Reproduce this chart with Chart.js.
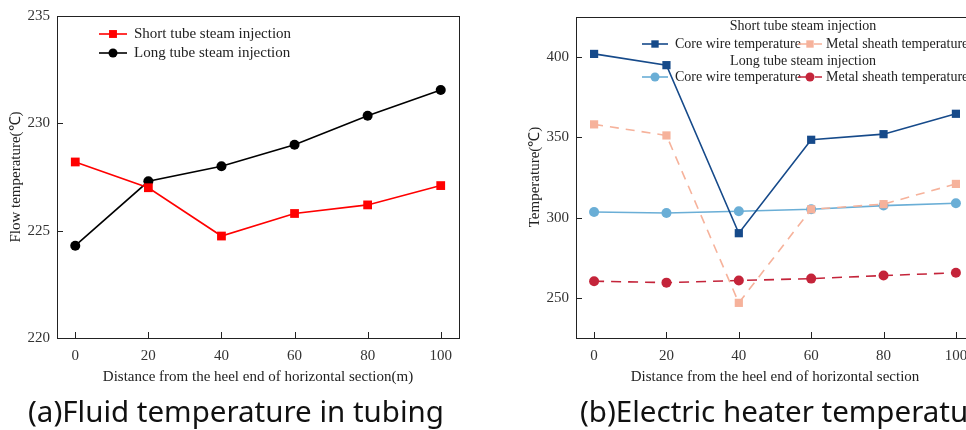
<!DOCTYPE html>
<html>
<head>
<meta charset="utf-8">
<script src="https://cdn.jsdelivr.net/npm/chart.js@4.4.0/dist/chart.umd.min.js"></script>
<style>
  html, body { margin: 0; padding: 0; background: #fff; overflow: hidden; width: 966px; height: 430px; }
  #wrapA { position: absolute; left: 0; top: 0; }
  #wrapB { position: absolute; left: 480px; top: 0; }
  .cap { position: absolute; top: 393px; font-family: "Noto Sans", sans-serif; font-size: 29.5px; color: #111; white-space: nowrap; line-height: 36px; }
</style>
</head>
<body>
<div id="wrapA"><canvas id="chartA" width="475" height="392"></canvas></div>
<div id="wrapB"><canvas id="chartB" width="520" height="392"></canvas></div>
<div class="cap" style="left:28px">(a)Fluid temperature in tubing</div>
<div class="cap" style="left:580px">(b)Electric heater temperature</div>
<script>
// ---- data (a) ----
var distances = [0, 20, 40, 60, 80, 100];
var shortTubeFlow = [228.2, 227.0, 224.75, 225.8, 226.2, 227.1];
var longTubeFlow = [224.3, 227.3, 228.0, 229.0, 230.35, 231.55];
var flowTicks = [220, 225, 230, 235];

// ---- data (b) ----
var shortCoreWire = [402, 395, 290.3, 348.5, 352, 364.7];
var shortSheath = [358.1, 351.2, 246.9, 305.2, 308.4, 321];
var longCoreWire = [303.5, 302.9, 304, 305.2, 307.5, 309];
var longSheath = [260.4, 259.5, 260.8, 262, 263.9, 265.6];
var heaterTicks = [250, 300, 350, 400];
var legendGroups = ["Short tube steam injection", "Long tube steam injection"];

var serif = '"Liberation Serif", "Times New Roman", serif';

function pts(values) {
  return distances.map(function (d, i) { return { x: d, y: values[i] }; });
}

function setTicks(list) {
  return function (scale) { scale.ticks = list.map(function (v) { return { value: v }; }); };
}

// frame, inward ticks, axis titles and a hand-placed legend
var framePlugin = {
  id: "frame",
  afterDraw: function (chart, args, opts) {
    var ctx = chart.ctx, a = chart.chartArea, xs = chart.scales.x, ys = chart.scales.y;
    ctx.save();
    ctx.strokeStyle = "#222";
    ctx.lineWidth = 1;
    ctx.strokeRect(Math.round(a.left) + 0.5, Math.round(a.top) + 0.5, Math.round(a.right - a.left), Math.round(a.bottom - a.top));
    ctx.beginPath();
    xs.ticks.forEach(function (t) {
      var px = Math.round(xs.getPixelForValue(t.value)) + 0.5;
      ctx.moveTo(px, a.bottom);
      ctx.lineTo(px, a.bottom - 6);
    });
    ys.ticks.forEach(function (t) {
      var py = Math.round(ys.getPixelForValue(t.value)) + 0.5;
      ctx.moveTo(a.left, py);
      ctx.lineTo(a.left + 6, py);
    });
    ctx.stroke();

    ctx.fillStyle = "#222";
    ctx.font = "15px " + serif;
    ctx.textAlign = "center";
    ctx.textBaseline = "middle";
    ctx.fillText(opts.xTitle, (a.left + a.right) / 2, opts.xTitleY);
    ctx.save();
    ctx.translate(opts.yTitleX, opts.yTitleY);
    ctx.rotate(-Math.PI / 2);
    ctx.fillText(opts.yTitle, 0, 0);
    ctx.restore();

    ctx.font = (opts.legendSize || 15) + "px " + serif;
    (opts.headers || []).forEach(function (h) {
      ctx.fillText(h.text, h.x, h.y);
    });

    ctx.textAlign = "left";
    (opts.legend || []).forEach(function (it) {
      var ds = chart.data.datasets[it.ds];
      ctx.save();
      ctx.strokeStyle = ds.borderColor;
      ctx.lineWidth = ds.borderWidth;
      ctx.setLineDash(ds.borderDash || []);
      ctx.beginPath();
      ctx.moveTo(it.x0, it.y);
      ctx.lineTo(it.x1, it.y);
      ctx.stroke();
      ctx.setLineDash([]);
      ctx.fillStyle = ds.pointBackgroundColor;
      Chart.helpers.drawPoint(ctx, { pointStyle: ds.pointStyle, radius: ds.pointRadius * 0.9, borderWidth: 0 }, (it.x0 + it.x1) / 2, it.y);
      ctx.restore();
      ctx.fillText(ds.label, it.tx, it.y);
    });
    ctx.restore();
  }
};

function baseScales(yMin, yMax, yList, yWidth, xHeight) {
  return {
    x: {
      type: "linear", min: -5, max: 105,
      afterBuildTicks: setTicks(distances),
      afterFit: function (s) { s.height = xHeight; },
      grid: { display: false, drawTicks: false },
      border: { display: false },
      ticks: { font: { family: serif, size: 15 }, color: "#333", padding: 9, maxRotation: 0, autoSkip: false }
    },
    y: {
      type: "linear", min: yMin, max: yMax,
      afterBuildTicks: setTicks(yList),
      afterFit: function (s) { s.width = yWidth; },
      grid: { display: false, drawTicks: false },
      border: { display: false },
      ticks: { font: { family: serif, size: 15 }, color: "#333", padding: 7 }
    }
  };
}

function line(label, values, color, style, radius, dash) {
  return {
    label: label, data: pts(values),
    borderColor: color, backgroundColor: color,
    pointBackgroundColor: color, pointBorderColor: color, pointBorderWidth: 0,
    pointStyle: style, pointRadius: radius, borderWidth: 1.6,
    borderDash: dash || [], tension: 0
  };
}

new Chart(document.getElementById("chartA"), {
  type: "line",
  data: {
    datasets: [
      line("Short tube steam injection", shortTubeFlow, "#ff0000", "rect", 6.2),
      line("Long tube steam injection", longTubeFlow, "#000000", "circle", 5)
    ]
  },
  options: {
    responsive: false, animation: false, devicePixelRatio: 1,
    layout: { padding: { top: 16, right: 16, left: 0, bottom: 0 } },
    scales: baseScales(220, 235, flowTicks, 57, 54),
    plugins: {
      legend: { display: false }, tooltip: { enabled: false },
      frame: {
        xTitle: "Distance from the heel end of horizontal section(m)", xTitleY: 377,
        yTitle: "Flow temperature(\u2103)", yTitleX: 16, yTitleY: 177,
        legendSize: 15,
        legend: [
          { ds: 0, x0: 99, x1: 127, tx: 134, y: 34 },
          { ds: 1, x0: 99, x1: 127, tx: 134, y: 53 }
        ]
      }
    }
  },
  plugins: [framePlugin]
});

new Chart(document.getElementById("chartB"), {
  type: "line",
  data: {
    datasets: [
      line("Core wire temperature", shortCoreWire, "#164a8a", "rect", 5.8),
      line("Metal sheath temperature", shortSheath, "#f6b29b", "rect", 5.8, [9, 7]),
      line("Core wire temperature", longCoreWire, "#6aaed6", "circle", 5),
      line("Metal sheath temperature", longSheath, "#c4243a", "circle", 5, [10, 7])
    ]
  },
  options: {
    responsive: false, animation: false, devicePixelRatio: 1,
    layout: { padding: { top: 17, right: 26, left: 0, bottom: 0 } },
    scales: baseScales(225, 425, heaterTicks, 96, 54),
    plugins: {
      legend: { display: false }, tooltip: { enabled: false },
      frame: {
        xTitle: "Distance from the heel end of horizontal section", xTitleY: 377,
        yTitle: "Temperature(\u2103)", yTitleX: 55, yTitleY: 177,
        legendSize: 14,
        headers: [
          { text: legendGroups[0], x: 323, y: 26 },
          { text: legendGroups[1], x: 323, y: 61 }
        ],
        legend: [
          { ds: 0, x0: 162, x1: 188, tx: 195, y: 44 },
          { ds: 1, x0: 318, x1: 342, tx: 346, y: 44 },
          { ds: 2, x0: 162, x1: 188, tx: 195, y: 77 },
          { ds: 3, x0: 318, x1: 342, tx: 346, y: 77 }
        ]
      }
    }
  },
  plugins: [framePlugin]
});
</script>
</body>
</html>
